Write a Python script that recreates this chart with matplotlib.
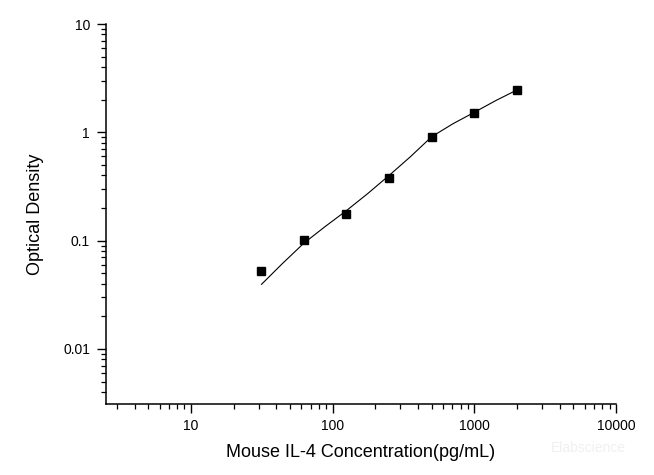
import matplotlib
matplotlib.use("Agg")
import matplotlib.pyplot as plt
from matplotlib.ticker import LogLocator, FixedLocator, NullFormatter

plt.rcParams['font.family'] = ['Liberation Sans', 'DejaVu Sans']

# standard points
conc = [31.25, 62.5, 125, 250, 500, 1000, 2000]
od = [0.052, 0.101, 0.177, 0.381, 0.905, 1.52, 2.44]

# fitted curve
curve_x = [31.5, 44, 62.5, 88, 125, 177, 250, 354, 500, 707, 1000, 1414, 2000]
curve_y = [0.0395, 0.061, 0.0944, 0.134, 0.189, 0.272, 0.399, 0.595, 0.91, 1.20, 1.53, 1.96, 2.46]

xticks = [10, 100, 1000, 10000]
xticklabels = ["10", "100", "1000", "10000"]
yticks = [0.01, 0.1, 1, 10]
yticklabels = ["0.01", "0.1", "1", "10"]

fig = plt.figure(figsize=(6.54, 4.75), dpi=100)
ax = fig.add_axes([106/654, 1-404/475, (616-106)/654, (404-24)/475])

ax.plot(curve_x, curve_y, color='black', lw=0.8)
ax.plot(conc, od, linestyle='none', marker='s', color='black', markersize=6)

ax.set_xscale('log')
ax.set_yscale('log')
ax.set_xlim(2.515, 10000)
ax.set_ylim(0.0031, 10)

ax.xaxis.set_major_locator(FixedLocator(xticks))
ax.set_xticklabels(xticklabels)
ax.yaxis.set_major_locator(FixedLocator(yticks))
ax.set_yticklabels(yticklabels)
ax.xaxis.set_minor_locator(LogLocator(base=10, subs=range(2, 10), numticks=20))
ax.yaxis.set_minor_locator(LogLocator(base=10, subs=range(2, 10), numticks=20))
ax.xaxis.set_minor_formatter(NullFormatter())
ax.yaxis.set_minor_formatter(NullFormatter())

for s in ['top', 'right']:
    ax.spines[s].set_visible(False)
for s in ['left', 'bottom']:
    ax.spines[s].set_linewidth(1.1)

ax.tick_params(which='major', direction='out', length=6.5, width=1.0, labelsize=10, pad=4)
ax.tick_params(which='minor', direction='out', length=3.6, width=0.9)
ax.tick_params(axis='y', which='major', pad=5)

ax.set_xlabel("Mouse IL-4 Concentration(pg/mL)", fontsize=13, labelpad=8)
ax.set_ylabel("Optical Density", fontsize=13, labelpad=14)

fig.text(588/654, 1-448/475, "Elabscience", fontsize=10, color='#f0f0f0', ha='center', va='center')

fig.savefig("out.png", dpi=100)
